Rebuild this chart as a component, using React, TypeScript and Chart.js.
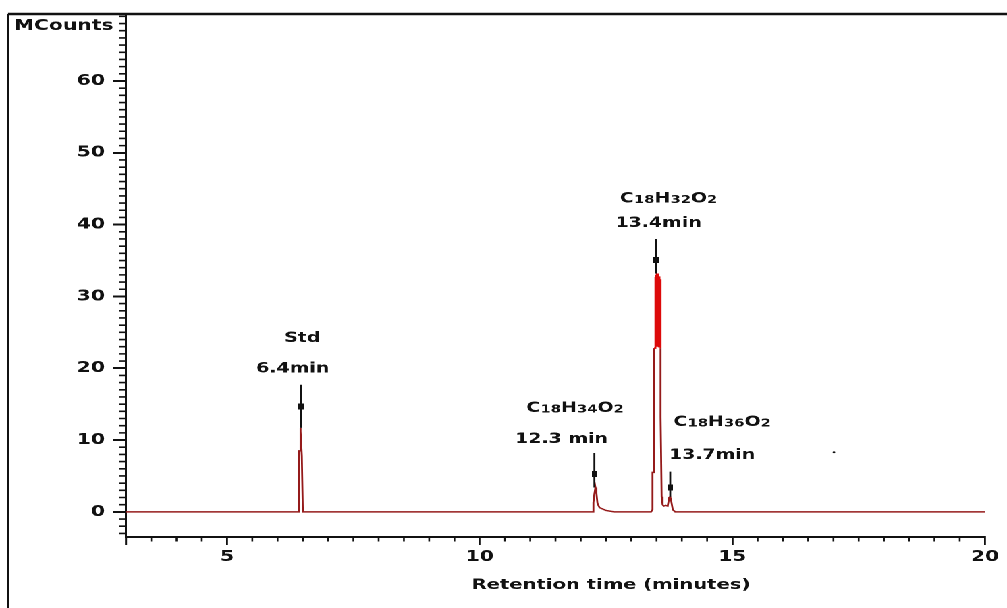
import React, { useEffect, useRef } from 'react';
import { Chart, registerables } from 'chart.js';

Chart.register(...registerables);

// ---------------- data ----------------
const traceTime = [
  3.0, 6.40, 6.42, 6.42, 6.45, 6.45, 6.46, 6.48, 6.49, 6.50,
  12.24, 12.25, 12.27, 12.29, 12.31, 12.33, 12.37, 12.50, 12.66, 12.70,
  13.39, 13.42, 13.42, 13.45, 13.45, 13.47,
  13.470, 13.475, 13.480, 13.485, 13.490, 13.495, 13.500, 13.505, 13.510, 13.515,
  13.520, 13.525, 13.530, 13.535, 13.540, 13.545, 13.550, 13.555, 13.560, 13.565, 13.570,
  13.58, 13.58, 13.60, 13.62, 13.64, 13.68, 13.72, 13.75, 13.77, 13.79, 13.82, 13.87, 20.0,
];
const traceCounts = [
  0, 0, 0, 8.5, 8.5, 11.7, 11.2, 7.8, 7.8, 0,
  0, 1.3, 2.5, 3.4, 2.6, 1.2, 0.6, 0.2, 0, 0,
  0, 0.3, 5.5, 5.5, 22.8, 22.8,
  32.4, 23.0, 32.7, 23.0, 33.0, 23.0, 33.2, 23.0, 33.2, 23.0,
  33.2, 23.0, 33.1, 23.0, 33.0, 23.0, 32.8, 23.0, 32.6, 23.0, 32.4,
  22.8, 13.2, 2.1, 1.0, 0.8, 0.9, 0.8, 2.0, 2.1, 1.5, 0.3, 0, 0,
];

const peakTime = [6.46, 12.27, 13.49, 13.77];
const peakTop = [11.7, 3.4, 33.2, 2.1];
const stickTop = [17.7, 8.2, 38.0, 5.6];
const markerCounts = [14.7, 5.3, 35.1, 3.4];

const compoundLabels = ['Std', 'C18H34O2', 'C18H32O2', 'C18H36O2'];
const compoundLabelX = [6.49, 11.89, 13.74, 14.80];
const compoundLabelY = [24.4, 14.6, 43.8, 12.7];
const timeLabels = ['6.4min', '12.3 min', '13.4min', '13.7min'];
const timeLabelX = [6.30, 11.62, 13.54, 14.60];
const timeLabelY = [19.9, 10.1, 40.2, 7.9];

const strayTime = [17.01];
const strayCounts = [8.3];

const xTicks = [5, 10, 15, 20];
const yTicks = [0, 10, 20, 30, 40, 50, 60];
const xMin = 3;
const xMax = 20;
const yMin = -3.5;
const yMax = 69.2;
const xMinorStep = 0.5;
const yMinorStep = 1;

const yTitle = 'MCounts';
const xTitle = 'Retention time (minutes)';

// ---------------- layout ----------------
const SCREEN_W = 1007;
const H = 608;
const W = 746;
const SX = SCREEN_W / W;
const PLOT_LEFT = 126 / SX;
const PLOT_RIGHT = 985 / SX;
const PLOT_TOP = 14;
const PLOT_BOTTOM = 537;
const FONT = '"DejaVu Sans", Verdana, sans-serif';
const INK = '#111111';

function drawFormula(ctx: CanvasRenderingContext2D, text: string, cx: number, cy: number, size: number) {
  const subSize = Math.round(size * 0.76);
  const segs: { t: string; sub: boolean }[] = [];
  for (const ch of text) {
    const sub = /[0-9]/.test(ch) && segs.length > 0;
    const last = segs[segs.length - 1];
    if (last && last.sub === sub) last.t += ch;
    else segs.push({ t: ch, sub });
  }
  let total = 0;
  const widths = segs.map((s) => {
    ctx.font = `bold ${s.sub ? subSize : size}px ${FONT}`;
    const w = ctx.measureText(s.t).width;
    total += w;
    return w;
  });
  let x = cx - total / 2;
  const base = cy + (size * 0.73) / 2;
  ctx.textAlign = 'left';
  ctx.textBaseline = 'alphabetic';
  segs.forEach((s, i) => {
    ctx.font = `bold ${s.sub ? subSize : size}px ${FONT}`;
    ctx.fillText(s.t, x, s.sub ? base + 0.5 : base);
    x += widths[i];
  });
}

const decorPlugin = {
  id: 'decor',
  afterDraw(chart: any) {
    const ctx: CanvasRenderingContext2D = chart.ctx;
    const xs = chart.scales.x;
    const ys = chart.scales.y;
    ctx.save();
    ctx.strokeStyle = INK;
    ctx.fillStyle = INK;

    // outer frame (top and left)
    ctx.lineWidth = 2.5;
    ctx.beginPath();
    ctx.moveTo(8 / SX, PLOT_TOP);
    ctx.lineTo(W, PLOT_TOP);
    ctx.stroke();
    ctx.lineWidth = 1.6;
    ctx.beginPath();
    ctx.moveTo(8 / SX, PLOT_TOP);
    ctx.lineTo(8 / SX, H);
    ctx.stroke();

    // y axis extension below the x axis
    const left = chart.chartArea.left;
    const bottom = chart.chartArea.bottom;
    ctx.lineWidth = 1.5;
    ctx.beginPath();
    ctx.moveTo(left, bottom);
    ctx.lineTo(left, bottom + 8);
    ctx.stroke();

    // minor ticks
    ctx.lineWidth = 1.3;
    ctx.beginPath();
    for (let v = xMin + xMinorStep; v < xMax - 1e-9; v += xMinorStep) {
      if (xTicks.some((t) => Math.abs(t - v) < 1e-6)) continue;
      const px = xs.getPixelForValue(v);
      ctx.moveTo(px, bottom);
      ctx.lineTo(px, bottom + 4.5);
    }
    ctx.stroke();
    ctx.lineWidth = 1.6;
    ctx.beginPath();
    for (let v = Math.ceil(yMin); v <= yMax; v += yMinorStep) {
      if (yTicks.includes(v)) continue;
      const py = ys.getPixelForValue(v);
      ctx.moveTo(left - 7 / SX, py);
      ctx.lineTo(left, py);
    }
    ctx.stroke();

    // axis titles
    ctx.font = `bold 15px ${FONT}`;
    ctx.textAlign = 'left';
    ctx.textBaseline = 'middle';
    ctx.fillText(yTitle, 14 / SX, 26);
    ctx.font = `bold 14.5px ${FONT}`;
    ctx.textAlign = 'center';
    ctx.fillText(xTitle, 611 / SX, 585);

    // peak annotations
    compoundLabels.forEach((lab, i) => {
      drawFormula(ctx, lab, xs.getPixelForValue(compoundLabelX[i]), ys.getPixelForValue(compoundLabelY[i]), 14);
    });
    ctx.font = `bold 14px ${FONT}`;
    ctx.textAlign = 'center';
    ctx.textBaseline = 'middle';
    timeLabels.forEach((lab, i) => {
      ctx.fillText(lab, xs.getPixelForValue(timeLabelX[i]), ys.getPixelForValue(timeLabelY[i]));
    });
    ctx.restore();
  },
};

export default function App() {
  const canvasRef = useRef<HTMLCanvasElement | null>(null);

  useEffect(() => {
    const canvas = canvasRef.current;
    if (!canvas) return;

    const square = document.createElement('canvas');
    square.width = 4;
    square.height = 6;
    const sctx = square.getContext('2d');
    if (sctx) {
      sctx.fillStyle = INK;
      sctx.fillRect(0, 0, 4, 6);
    }

    const tickFont = { family: FONT, size: 15, weight: 'bold' as const };

    const chart = new Chart(canvas, {
      type: 'scatter',
      data: {
        datasets: [
          {
            label: 'markers',
            data: peakTime.map((t, i) => ({ x: t, y: markerCounts[i] })),
            pointStyle: square as any,
            pointRadius: 3,
            showLine: false,
          },
          ...peakTime.map((t, i) => ({
            label: 'stick' + i,
            data: [
              { x: t, y: peakTop[i] },
              { x: t, y: stickTop[i] },
            ],
            showLine: true,
            borderColor: INK,
            borderWidth: 1.4,
            pointRadius: 0,
          })),
          {
            label: 'stray',
            data: strayTime.map((t, i) => ({ x: t, y: strayCounts[i] })),
            pointRadius: 1,
            backgroundColor: INK,
            borderColor: INK,
            borderWidth: 0,
            showLine: false,
          },
          {
            label: 'TIC',
            data: traceTime.map((t, i) => ({ x: t, y: traceCounts[i] })),
            showLine: true,
            borderColor: '#951b1b',
            borderWidth: 1.4,
            pointRadius: 0,
            tension: 0,
            segment: {
              borderColor: (c: any) =>
                c.p0.parsed.y > 20 && c.p1.parsed.y > 20 ? '#dd0a0a' : undefined,
            },
          } as any,
        ],
      },
      options: {
        animation: false,
        responsive: false,
        devicePixelRatio: 2,
        events: [],
        layout: { padding: { top: PLOT_TOP, right: W - PLOT_RIGHT, bottom: 0, left: 0 } },
        plugins: { legend: { display: false }, tooltip: { enabled: false }, title: { display: false } },
        scales: {
          x: {
            type: 'linear',
            min: xMin,
            max: xMax,
            afterBuildTicks: (s: any) => {
              s.ticks = xTicks.map((v) => ({ value: v }));
            },
            afterFit: (s: any) => {
              s.height = H - PLOT_BOTTOM;
            },
            ticks: { font: tickFont, color: INK, padding: 3, maxRotation: 0, autoSkip: false },
            grid: { drawOnChartArea: false, tickLength: 8, color: INK, lineWidth: 1.4 },
            border: { color: INK, width: 2 },
          },
          y: {
            type: 'linear',
            min: yMin,
            max: yMax,
            afterBuildTicks: (s: any) => {
              s.ticks = yTicks.map((v) => ({ value: v }));
            },
            afterFit: (s: any) => {
              s.width = PLOT_LEFT;
            },
            ticks: { font: tickFont, color: INK, padding: 8 / SX, autoSkip: false },
            grid: { drawOnChartArea: false, tickLength: 13 / SX, color: INK, lineWidth: 2 },
            border: { color: INK, width: 1.5 },
          },
        },
      } as any,
      plugins: [decorPlugin],
    });

    return () => chart.destroy();
  }, []);

  return (
    <div
      style={{
        position: 'absolute',
        left: 0,
        top: 0,
        width: W,
        height: H,
        transform: `scaleX(${SX})`,
        transformOrigin: '0 0',
        background: '#ffffff',
      }}
    >
      <canvas ref={canvasRef} width={W} height={H} style={{ width: `${W}px`, height: `${H}px`, display: 'block' }} />
    </div>
  );
}
